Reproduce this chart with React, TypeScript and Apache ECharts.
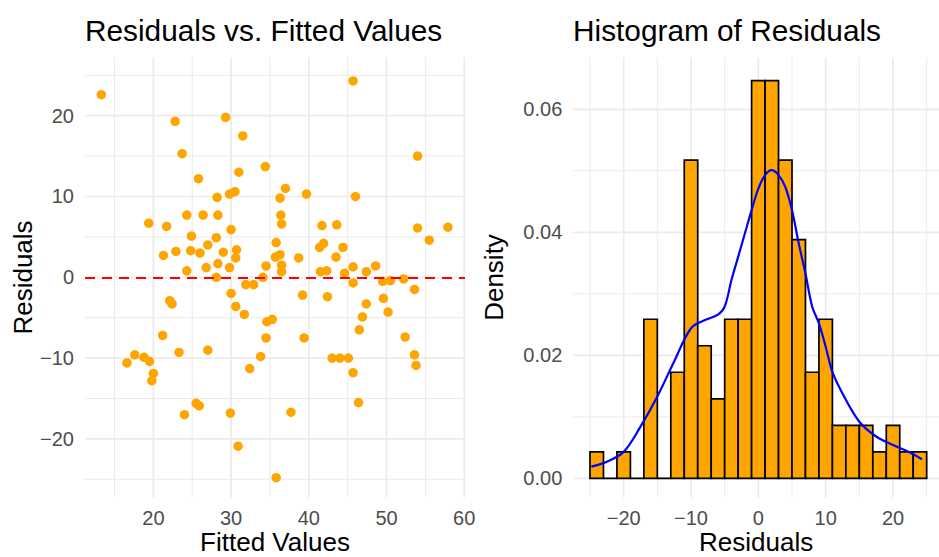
import React, { useEffect, useRef } from 'react';
import * as echarts from 'echarts';

// ---- Scatter: residuals vs fitted ----
const fitted = [
  13.3, 22.8, 29.3, 31.5, 23.7, 34.4, 31.0, 25.8, 45.7, 54.0, 37.0, 28.2, 29.8, 30.5, 36.3, 39.7, 46.0,
  24.3, 26.4, 28.3, 36.4,
  19.4, 21.7, 30.0, 36.5, 41.7, 43.6, 54.0, 57.9,
  24.9, 28.1, 35.8, 55.5, 27.0,
  41.4, 41.9, 44.4,
  21.3, 22.9, 24.8, 26.0, 29.0, 30.7, 30.6, 35.7, 36.3, 38.7, 43.5,
  28.3, 26.8, 29.8, 34.5, 36.5, 45.7, 48.6,
  24.3, 36.5, 41.5, 42.3, 44.6, 47.4,
  28.1, 34.1,
  52.2, 49.5, 50.5, 45.7, 31.9, 32.9,
  53.6, 30.0, 39.2, 42.4, 49.6,
  22.1, 22.4, 47.4, 30.6, 50.2, 31.7, 46.9,
  34.6, 35.3, 46.5, 21.2, 34.5, 39.4, 52.4,
  23.3, 27.0, 33.8,
  16.6, 17.6, 18.8, 19.5, 20.0, 19.8,
  43.0, 44.0, 45.1, 53.6, 53.8, 32.4, 45.7,
  25.5, 25.9, 46.4, 24.0, 29.9, 37.7, 30.9, 35.8,
];
const residuals = [
  22.6, 19.3, 19.8, 17.5, 15.3, 13.7, 13.0, 12.2, 24.3, 15.0, 11.0, 9.9, 10.3, 10.6, 9.8, 10.3, 10.0,
  7.7, 7.7, 7.7, 7.7,
  6.7, 6.3, 5.9, 6.6, 6.4, 6.5, 6.1, 6.2,
  5.1, 4.9, 4.3, 4.6, 4.0,
  3.7, 4.2, 3.7,
  2.7, 3.2, 3.3, 3.0, 3.1, 3.4, 2.4, 2.5, 2.8, 2.4, 2.5,
  1.7, 1.2, 1.2, 1.4, 1.5, 1.3, 1.4,
  0.8, 0.7, 0.7, 0.8, 0.5, 0.7,
  0.0, 0.0,
  -0.2, -0.5, -0.4, -0.7, -0.9, -0.9,
  -1.5, -2.0, -2.2, -2.4, -2.6,
  -2.9, -3.3, -3.3, -3.6, -4.3, -4.6, -4.9,
  -5.5, -5.2, -6.5, -7.2, -7.5, -7.5, -7.4,
  -9.3, -9.0, -9.8,
  -10.6, -9.6, -9.9, -10.4, -11.9, -12.8,
  -10.0, -10.0, -10.0, -9.6, -10.9, -11.3, -11.8,
  -15.6, -15.9, -15.5, -17.0, -16.8, -16.7, -20.9, -24.8,
];
const scatterXTicks = [20, 30, 40, 50, 60];
const scatterXMinor = [15, 25, 35, 45, 55];
const scatterYTicks = [-20, -10, 0, 10, 20];
const scatterYMinor = [-25, -15, -5, 5, 15, 25];

// ---- Histogram of residuals ----
const binStarts = [-25, -23, -21, -19, -17, -15, -13, -11, -9, -7, -5, -3, -1, 1, 3, 5, 7, 9, 11, 13, 15, 17, 19, 21, 23];
const binCounts = [1, 0, 1, 0, 6, 0, 4, 12, 5, 3, 6, 6, 15, 15, 12, 9, 4, 6, 2, 2, 2, 1, 2, 1, 1];
const binWidth = 2;
const kdeX = [-24.8, -22.5, -20, -17.5, -15, -12.5, -10, -8, -6, -5, -4, -3, -2, -1, 0, 1, 2, 3, 4, 5, 6, 7, 8, 9, 10, 11, 12.5, 15, 17.5, 20, 22.5, 24.3];
const kdeY = [0.0019, 0.0027, 0.0043, 0.0084, 0.0133, 0.019, 0.0244, 0.0257, 0.0266, 0.0279, 0.0322, 0.036, 0.0398, 0.0436, 0.0471, 0.0493, 0.0501, 0.0493, 0.0474, 0.0436, 0.0382, 0.0333, 0.0279, 0.0252, 0.0214, 0.0173, 0.0138, 0.0092, 0.0068, 0.0054, 0.0042, 0.0031];
const histXTicks = [-20, -10, 0, 10, 20];
const histXMinor = [-25, -15, -5, 5, 15, 25];
const histYTicks = [0, 0.02, 0.04, 0.06];
const histYMinor = [0.01, 0.03, 0.05];

const FONT = '"Liberation Sans", Arial, Helvetica, sans-serif';
const GRID_COLOR = '#ebebeb';
const minus = (s: string) => s.replace('-', '\u2212');

function vLines(values: number[], xi: number, yv: number, width: number) {
  return {
    type: 'custom', xAxisIndex: xi, yAxisIndex: xi, z: 0, silent: true,
    data: values.map((v) => [v, yv]),
    renderItem: (params: any, api: any) => {
      const p = api.coord([api.value(0), api.value(1)]);
      const cs = params.coordSys;
      return { type: 'line', shape: { x1: p[0], y1: cs.y, x2: p[0], y2: cs.y + cs.height }, style: { stroke: GRID_COLOR, lineWidth: width } };
    },
  };
}
function hLines(values: number[], xi: number, xv: number, width: number) {
  return {
    type: 'custom', xAxisIndex: xi, yAxisIndex: xi, z: 0, silent: true,
    data: values.map((v) => [xv, v]),
    renderItem: (params: any, api: any) => {
      const p = api.coord([api.value(0), api.value(1)]);
      const cs = params.coordSys;
      return { type: 'line', shape: { x1: cs.x, y1: p[1], x2: cs.x + cs.width, y2: p[1] }, style: { stroke: GRID_COLOR, lineWidth: width } };
    },
  };
}

export default function App() {
  const ref = useRef<HTMLDivElement>(null);
  useEffect(() => {
    if (!ref.current) return;
    const chart = echarts.init(ref.current, undefined, { renderer: 'svg' });
    const n = binCounts.reduce((a, b) => a + b, 0);
    const tickLabel = { color: '#4d4d4d', fontSize: 20, fontFamily: FONT };
    const axisName = { color: '#000', fontSize: 26, fontFamily: FONT };
    const xAxisName = { ...axisName, lineHeight: 24 };
    const titleStyle = { color: '#000', fontSize: 29.8, fontWeight: 'normal', fontFamily: FONT };
    const noAxis = { axisLine: { show: false }, axisTick: { show: false }, splitLine: { show: false } };
    chart.setOption({
      animation: false,
      backgroundColor: '#fff',
      title: [
        { text: 'Residuals vs. Fitted Values', left: 85, top: 15, padding: 0, textStyle: titleStyle },
        { text: 'Histogram of Residuals', left: 573, top: 15, padding: 0, textStyle: titleStyle },
      ],
      grid: [
        { left: 85, top: 57.5, width: 380, height: 440, containLabel: false, outerBoundsMode: 'none' },
        { left: 573.3, top: 57.5, width: 365.7, height: 440, containLabel: false, outerBoundsMode: 'none' },
      ],
      xAxis: [
        {
          type: 'value', gridIndex: 0, min: 11.2, max: 60.1, ...noAxis,
          name: 'Fitted Values', nameLocation: 'middle', nameGap: 32, nameMoveOverlap: false, nameTextStyle: xAxisName,
          axisLabel: { ...tickLabel, margin: 10, customValues: scatterXTicks, formatter: (v: number) => minus(String(v)) },
        },
        {
          type: 'value', gridIndex: 1, min: -27.48, max: 26.83, ...noAxis,
          name: 'Residuals', nameLocation: 'middle', nameGap: 32, nameMoveOverlap: false, nameTextStyle: xAxisName,
          axisLabel: { ...tickLabel, margin: 10, customValues: histXTicks, formatter: (v: number) => minus(String(v)) },
        },
      ],
      yAxis: [
        {
          type: 'value', gridIndex: 0, min: -27.25, max: 27.2, ...noAxis,
          name: 'Residuals', nameLocation: 'middle', nameGap: 49, nameMoveOverlap: false, nameTextStyle: axisName,
          axisLabel: { ...tickLabel, margin: 11, customValues: scatterYTicks, formatter: (v: number) => minus(String(v)) },
        },
        {
          type: 'value', gridIndex: 1, min: -0.00312, max: 0.06842, ...noAxis,
          name: 'Density', nameLocation: 'middle', nameGap: 66, nameMoveOverlap: false, nameTextStyle: axisName,
          axisLabel: { ...tickLabel, margin: 11, customValues: histYTicks, formatter: (v: number) => v.toFixed(2) },
        },
      ],
      series: [
        vLines(scatterXMinor, 0, 0, 1),
        vLines(scatterXTicks, 0, 0, 1.7),
        hLines(scatterYMinor, 0, 30, 1),
        hLines(scatterYTicks, 0, 30, 1.7),
        vLines(histXMinor, 1, 0.01, 1),
        vLines(histXTicks, 1, 0.01, 1.7),
        hLines(histYMinor, 1, 0, 1),
        hLines(histYTicks, 1, 0, 1.7),
        {
          type: 'scatter', xAxisIndex: 0, yAxisIndex: 0, z: 3,
          data: fitted.map((x, i) => [x, residuals[i]]),
          symbolSize: 9.5,
          itemStyle: { color: '#FFA500', opacity: 1 },
          markLine: {
            silent: true, symbol: 'none', z: 5,
            label: { show: false },
            lineStyle: { color: '#FF0000', width: 2.2, type: [10, 7] },
            data: [{ yAxis: 0 }],
          },
        },
        {
          type: 'custom', xAxisIndex: 1, yAxisIndex: 1, z: 3,
          data: binStarts.map((s, i) => [s, s + binWidth, binCounts[i] / (n * binWidth)]),
          encode: { x: [0, 1], y: 2 },
          renderItem: (params: any, api: any) => {
            const tl = api.coord([api.value(0), api.value(2)]);
            const br = api.coord([api.value(1), 0]);
            return {
              type: 'rect',
              shape: { x: tl[0], y: tl[1], width: br[0] - tl[0], height: br[1] - tl[1] },
              style: { fill: '#FFA500', stroke: '#000', lineWidth: 1.7 },
            };
          },
        },
        {
          type: 'line', xAxisIndex: 1, yAxisIndex: 1, z: 4,
          data: kdeX.map((x, i) => [x, kdeY[i]]),
          smooth: 0.35, showSymbol: false, symbol: 'none',
          lineStyle: { color: '#0000FF', width: 2.2 },
        },
      ],
    });
    return () => chart.dispose();
  }, []);
  return <div ref={ref} style={{ position: 'fixed', left: 0, top: 0, width: 939, height: 557 }} />;
}
